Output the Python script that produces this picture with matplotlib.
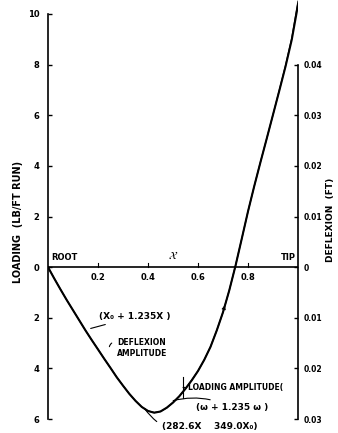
import numpy as np
import matplotlib
matplotlib.use('Agg')
from matplotlib import pyplot as plt

# spanwise station (root = 0, tip = 1)
x = [0.0, 0.025, 0.05, 0.075, 0.10, 0.125, 0.15, 0.175, 0.20, 0.225, 0.25, 0.275,
     0.30, 0.325, 0.35, 0.375, 0.40, 0.425, 0.45, 0.475, 0.50, 0.525, 0.55, 0.575,
     0.60, 0.625, 0.65, 0.675, 0.70, 0.725, 0.75, 0.775, 0.80, 0.825, 0.85, 0.875,
     0.90, 0.925, 0.95, 0.975, 1.00]
# loading amplitude, lb/ft run (left axis)
loading = [0.0, -0.45, -0.88, -1.30, -1.70, -2.10, -2.50, -2.88, -3.25, -3.62, -3.98, -4.35,
           -4.68, -5.00, -5.28, -5.52, -5.68, -5.75, -5.70, -5.55, -5.35, -5.10, -4.80, -4.47,
           -4.10, -3.66, -3.15, -2.50, -1.78, -0.92, 0.05, 1.12, 2.20, 3.20, 4.15, 5.08,
           6.02, 6.96, 7.92, 8.98, 10.35]
# deflexion amplitude, ft (right axis)
deflexion = [0.0, -0.0022, -0.0044, -0.0065, -0.0085, -0.0105, -0.0125, -0.0144, -0.0162, -0.0181, -0.0199, -0.0217,
             -0.0234, -0.0250, -0.0264, -0.0276, -0.0284, -0.0287, -0.0285, -0.0278, -0.0267, -0.0255, -0.0240, -0.0223,
             -0.0205, -0.0183, -0.0157, -0.0125, -0.0089, -0.0046, 0.0003, 0.0056, 0.0110, 0.0160, 0.0208, 0.0254,
             0.0301, 0.0349, 0.0398, 0.0452, 0.0525]

left_ticks = [10, 8, 6, 4, 2, 0, -2, -4, -6]
left_labels = ['10', '8', '6', '4', '2', '0', '2', '4', '6']
right_ticks = [0.04, 0.03, 0.02, 0.01, 0, -0.01, -0.02, -0.03]
right_labels = ['0.04', '0.03', '0.02', '0.01', '0', '0.01', '0.02', '0.03']
x_ticks = [0.2, 0.4, 0.6, 0.8]
x_labels = ['0.2', '0.4', '0.6', '0.8']

plt.rcParams['font.family'] = ['DejaVu Sans']
fs = 6

fig = plt.figure(figsize=(3.38, 4.33), dpi=100)
ax = fig.add_axes([48 / 338, 0, 250 / 338, 1])
ax.set_xlim(0, 1)
ax.set_ylim(-6.55, 10.55)
ax.patch.set_alpha(0)

ax.plot(x, loading, color='black', lw=1.5, solid_capstyle='round', zorder=3)

# spines
for s in ['top', 'bottom', 'right']:
    ax.spines[s].set_visible(False)
ax.spines['left'].set_bounds(-6, 10)
ax.spines['left'].set_linewidth(1.2)
ax.set_yticks(left_ticks)
ax.set_yticklabels(left_labels, fontsize=fs, fontweight='bold')
ax.tick_params(axis='y', direction='in', length=3, width=1, pad=6)
ax.set_xticks([])

# x axis drawn along zero loading
ax.plot([0, 1], [0, 0], color='black', lw=1.2, zorder=2)
for xt, xl in zip(x_ticks, x_labels):
    ax.plot([xt, xt], [0, 0.15], color='black', lw=0.8)
    ax.text(xt, -0.25, xl, fontsize=fs, fontweight='bold', ha='center', va='top')
ax.text(0.012, 0.2, 'ROOT', fontsize=fs, fontweight='bold', ha='left', va='bottom')
ax.text(0.99, 0.2, 'TIP', fontsize=fs, fontweight='bold', ha='right', va='bottom')
ax.text(0.5, 0.25, r'$\mathcal{X}$', fontsize=8, ha='center', va='bottom')

# right axis: deflexion
ax2 = ax.twinx()
ax2.set_ylim(-6.55 * 0.005, 10.55 * 0.005)
ax2.plot(x, deflexion, color='black', lw=0.9, zorder=3)
for s in ['top', 'bottom', 'left']:
    ax2.spines[s].set_visible(False)
ax2.spines['right'].set_bounds(-0.03, 0.04)
ax2.spines['right'].set_linewidth(1.2)
ax2.set_yticks(right_ticks)
ax2.set_yticklabels(right_labels, fontsize=5.5, fontweight='bold')
ax2.tick_params(axis='y', direction='in', length=3, width=1, pad=4)

# axis titles
fig.text(18 / 338, 1 - 222 / 433, 'LOADING  (LB/FT RUN)', fontsize=7, fontweight='bold',
         rotation=90, ha='center', va='center')
fig.text(330 / 338, 1 - 220 / 433, 'DEFLEXION  (FT)', fontsize=6.5, fontweight='bold',
         rotation=90, ha='center', va='center')

# annotations
ax.annotate('(X₀ + 1.235X )', xy=(0.16, -2.45), xytext=(0.205, -1.95),
            fontsize=6.5, fontweight='bold', ha='left', va='center',
            arrowprops=dict(arrowstyle='-', color='black', lw=0.8))
ax.text(0.275, -2.8, 'DEFLEXION\nAMPLITUDE', fontsize=5.5, fontweight='bold',
        ha='left', va='top', linespacing=1.3)
ax.annotate('', xy=(0.245, -3.25), xytext=(0.265, -2.95),
            arrowprops=dict(arrowstyle='-', color='black', lw=0.8,
                            connectionstyle='arc3,rad=0.4'))
ax.annotate('LOADING AMPLITUDE(', xy=(0.54, -4.75), xytext=(0.56, -4.75),
            fontsize=5.5, fontweight='bold', ha='left', va='center',
            arrowprops=dict(arrowstyle='-', color='black', lw=0.8))
ax.plot([0.54, 0.54], [-4.35, -5.15], color='black', lw=0.8)
ax.annotate('(ω + 1.235 ω )', xy=(0.49, -5.3), xytext=(0.59, -5.55),
            fontsize=6.5, fontweight='bold', ha='left', va='center',
            arrowprops=dict(arrowstyle='-', color='black', lw=0.8,
                            connectionstyle='arc3,rad=0.2'))
ax.annotate('(282.6X    349.0X₀)', xy=(0.38, -5.5), xytext=(0.455, -6.3),
            fontsize=6.5, fontweight='bold', ha='left', va='center',
            arrowprops=dict(arrowstyle='-', color='black', lw=0.8,
                            connectionstyle='arc3,rad=-0.4'))
ax.annotate('', xy=(0.698, -1.85), xytext=(0.71, -1.4),
            arrowprops=dict(arrowstyle='<|-', color='black', lw=0.6, mutation_scale=6))

fig.savefig('out.png', dpi=100)
